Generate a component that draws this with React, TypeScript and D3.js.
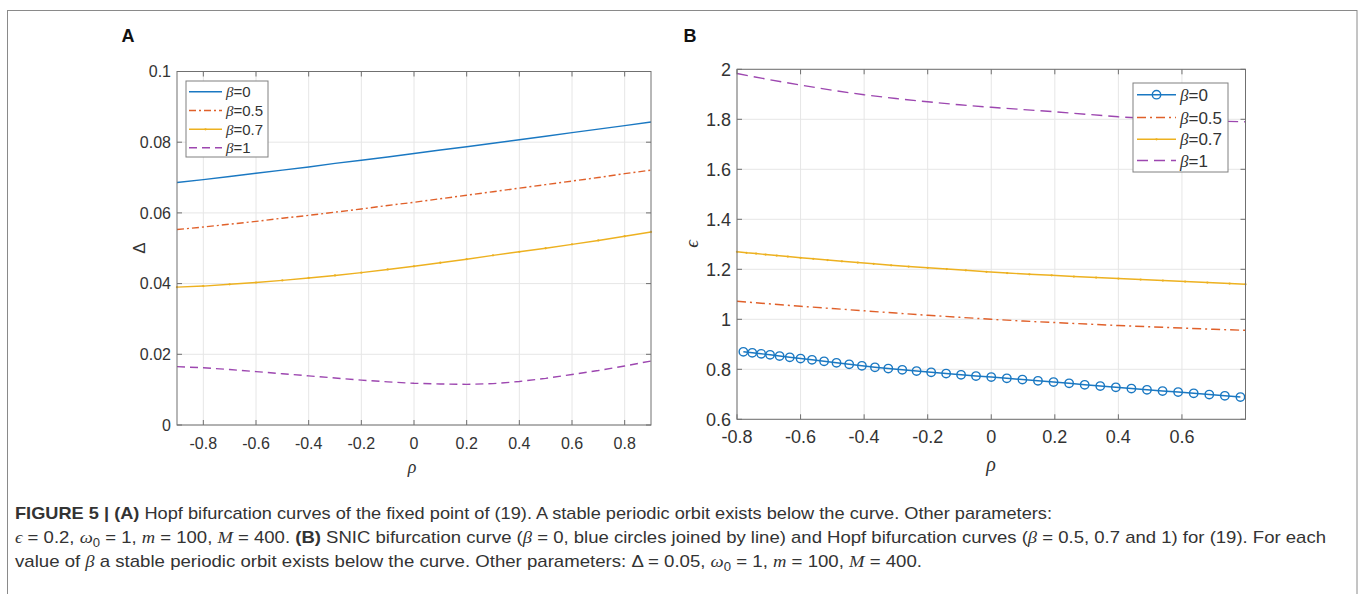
import React from 'react';
import * as d3 from 'd3';

// ---------- Panel A data (Hopf curves, Delta vs rho) ----------
const rhoA = [-0.9, -0.8, -0.7, -0.6, -0.5, -0.4, -0.3, -0.2, -0.1, 0, 0.1, 0.2, 0.3, 0.4, 0.5, 0.6, 0.7, 0.8, 0.9];
const deltaBeta0 = [0.0686, 0.0694, 0.0703, 0.0712, 0.0721, 0.0730, 0.0740, 0.0749, 0.0758, 0.0768, 0.0778, 0.0787, 0.0797, 0.0807, 0.0817, 0.0827, 0.0837, 0.0847, 0.0857];
const deltaBeta05 = [0.0553, 0.0560, 0.0568, 0.0576, 0.0585, 0.0593, 0.0602, 0.0611, 0.0621, 0.0630, 0.0640, 0.0650, 0.0660, 0.0670, 0.0680, 0.0690, 0.0700, 0.0711, 0.0721];
const deltaBeta07 = [0.0390, 0.0393, 0.0398, 0.0403, 0.0409, 0.0416, 0.0423, 0.0431, 0.0440, 0.0449, 0.0459, 0.0469, 0.0480, 0.0490, 0.0500, 0.0511, 0.0522, 0.0534, 0.0546];
const deltaBeta1 = [0.0165, 0.0162, 0.0157, 0.0151, 0.0145, 0.0139, 0.0133, 0.0127, 0.0122, 0.0118, 0.0116, 0.0115, 0.0117, 0.0123, 0.0132, 0.0143, 0.0154, 0.0167, 0.0181];
const xTicksA = [-0.8, -0.6, -0.4, -0.2, 0, 0.2, 0.4, 0.6, 0.8];
const yTicksA = [0, 0.02, 0.04, 0.06, 0.08, 0.1];

// ---------- Panel B data (SNIC + Hopf curves, epsilon vs rho) ----------
const rhoSnic = [-0.78, -0.752, -0.724, -0.696, -0.666, -0.634, -0.6, -0.564, -0.526, -0.487, -0.447, -0.407, -0.366, -0.324, -0.28, -0.235, -0.189, -0.142, -0.095, -0.048, 0, 0.049, 0.098, 0.147, 0.196, 0.245, 0.294, 0.343, 0.392, 0.441, 0.49, 0.539, 0.588, 0.637, 0.686, 0.735, 0.784];
const epsBeta0 = [0.870, 0.866, 0.862, 0.858, 0.853, 0.848, 0.843, 0.838, 0.832, 0.826, 0.820, 0.814, 0.808, 0.803, 0.798, 0.793, 0.788, 0.783, 0.778, 0.773, 0.769, 0.764, 0.759, 0.754, 0.749, 0.744, 0.738, 0.733, 0.728, 0.723, 0.718, 0.713, 0.709, 0.704, 0.699, 0.694, 0.689];
const rhoB = [-0.8, -0.7, -0.6, -0.5, -0.4, -0.3, -0.2, -0.1, 0, 0.1, 0.2, 0.3, 0.4, 0.5, 0.6, 0.7, 0.8];
const epsBeta05 = [1.072, 1.062, 1.052, 1.043, 1.034, 1.025, 1.016, 1.008, 1.000, 0.993, 0.987, 0.981, 0.975, 0.970, 0.965, 0.960, 0.956];
const epsBeta1 = [1.983, 1.959, 1.937, 1.916, 1.898, 1.883, 1.870, 1.858, 1.848, 1.839, 1.830, 1.820, 1.810, 1.803, 1.797, 1.793, 1.790];
const rhoB07 = [-0.8, -0.77, -0.74, -0.71, -0.675, -0.64, -0.6, -0.56, -0.515, -0.47, -0.42, -0.37, -0.315, -0.26, -0.2, -0.14, -0.08, -0.015, 0.05, 0.12, 0.19, 0.26, 0.33, 0.4, 0.47, 0.54, 0.61, 0.68, 0.75, 0.8];
const epsBeta07 = [1.270, 1.266, 1.263, 1.259, 1.255, 1.251, 1.246, 1.242, 1.237, 1.232, 1.227, 1.222, 1.216, 1.211, 1.206, 1.201, 1.196, 1.190, 1.185, 1.180, 1.176, 1.171, 1.167, 1.163, 1.159, 1.155, 1.151, 1.147, 1.143, 1.140];
const xTicksB = [-0.8, -0.6, -0.4, -0.2, 0, 0.2, 0.4, 0.6];
const yTicksB = [0.6, 0.8, 1, 1.2, 1.4, 1.6, 1.8, 2];

const betaLabels = ['0', '0.5', '0.7', '1'];
const colors = ['#1a78c2', '#e0602a', '#edb120', '#9d47b0'];

type Series = { xs: number[]; ys: number[]; color: string; dash?: string; marker?: 'circle' | 'dot' };

const SANS = "'Liberation Sans', Arial, Helvetica, sans-serif";
const SERIF = "'Liberation Serif', 'DejaVu Serif', serif";

function Panel(props: {
  box: { l: number; r: number; t: number; b: number };
  xDomain: [number, number];
  yDomain: [number, number];
  xTicks: number[];
  yTicks: number[];
  font: number;
  series: Series[];
  legend: { x: number; y: number; w: number; h: number; rows: number[]; lx0: number; lx1: number; tx: number; font: number; markers: (string | undefined)[]; dashes: (string | undefined)[] };
  yLabel: string;
  yLabelPos: [number, number];
  xLabelPos: [number, number];
  yLabelSerif: boolean;
}) {
  const { box, font } = props;
  const x = d3.scaleLinear().domain(props.xDomain).range([box.l, box.r]);
  const y = d3.scaleLinear().domain(props.yDomain).range([box.b, box.t]);
  const line = d3.line<[number, number]>().x((d) => x(d[0])).y((d) => y(d[1]));
  const tickLen = 5;
  const cap = font * 0.716;
  const axisColor = '#707070';
  const labelColor = '#333333';
  const lg = props.legend;
  return (
    <g>
      {props.xTicks.map((t) => (
        <line key={'gx' + t} x1={x(t)} x2={x(t)} y1={box.t} y2={box.b} stroke="#e6e6e6" strokeWidth={1} />
      ))}
      {props.yTicks.map((t) => (
        <line key={'gy' + t} x1={box.l} x2={box.r} y1={y(t)} y2={y(t)} stroke="#e6e6e6" strokeWidth={1} />
      ))}
      {props.series.map((s, i) => {
        const pts = d3.zip(s.xs, s.ys) as [number, number][];
        return (
          <g key={'s' + i}>
            <path d={line(pts) || ''} fill="none" stroke={s.color} strokeWidth={1.4} strokeDasharray={s.dash} />
            {s.marker === 'circle' &&
              pts.map((p, j) => (
                <circle key={j} cx={x(p[0])} cy={y(p[1])} r={4.2} fill="none" stroke={s.color} strokeWidth={1.4} />
              ))}
            {s.marker === 'dot' &&
              pts.map((p, j) => <circle key={j} cx={x(p[0])} cy={y(p[1])} r={1.15} fill={s.color} />)}
          </g>
        );
      })}
      <rect x={box.l} y={box.t} width={box.r - box.l} height={box.b - box.t} fill="none" stroke={axisColor} strokeWidth={1} />
      {props.xTicks.map((t) => (
        <g key={'tx' + t}>
          <line x1={x(t)} x2={x(t)} y1={box.b} y2={box.b - tickLen} stroke={axisColor} />
          <line x1={x(t)} x2={x(t)} y1={box.t} y2={box.t + tickLen} stroke={axisColor} />
          <text x={x(t)} y={box.b + 24} textAnchor="middle" fontSize={font} fill={labelColor} fontFamily={SANS}>
            {String(t)}
          </text>
        </g>
      ))}
      {props.yTicks.map((t) => (
        <g key={'ty' + t}>
          <line x1={box.l} x2={box.l + tickLen} y1={y(t)} y2={y(t)} stroke={axisColor} />
          <line x1={box.r} x2={box.r - tickLen} y1={y(t)} y2={y(t)} stroke={axisColor} />
          <text x={box.l - 6} y={y(t) + cap / 2} textAnchor="end" fontSize={font} fill={labelColor} fontFamily={SANS}>
            {String(t)}
          </text>
        </g>
      ))}
      <text x={props.xLabelPos[0]} y={props.xLabelPos[1] + 5} textAnchor="middle" fontSize={font + 2} fontStyle="italic" fontFamily={SERIF} fill={labelColor}>
        ρ
      </text>
      <text
        transform={`translate(${props.yLabelPos[0]},${props.yLabelPos[1]}) rotate(-90)`}
        textAnchor="middle"
        dy={5}
        fontSize={font + 1}
        fontStyle={props.yLabelSerif ? 'italic' : 'normal'}
        fontFamily={props.yLabelSerif ? SERIF : SANS}
        fill={labelColor}
      >
        {props.yLabel}
      </text>
      <rect x={lg.x} y={lg.y} width={lg.w} height={lg.h} fill="#fff" stroke="#808080" strokeWidth={1} />
      {betaLabels.map((b, i) => {
        const ry = lg.rows[i];
        const mx = (lg.lx0 + lg.lx1) / 2;
        return (
          <g key={'lg' + i}>
            <line x1={lg.lx0} x2={lg.lx1} y1={ry} y2={ry} stroke={colors[i]} strokeWidth={1.4} strokeDasharray={lg.dashes[i]} />
            {lg.markers[i] === 'circle' && <circle cx={mx} cy={ry} r={4.2} fill="none" stroke={colors[i]} strokeWidth={1.4} />}
            {lg.markers[i] === 'dot' && <circle cx={mx} cy={ry} r={1.15} fill={colors[i]} />}
            <text x={lg.tx} y={ry + lg.font * 0.36} fontSize={lg.font} fill={labelColor} fontFamily={SANS}>
              <tspan fontFamily={SERIF} fontStyle="italic">β</tspan>
              <tspan>={b}</tspan>
            </text>
          </g>
        );
      })}
    </g>
  );
}

type Seg = { t: string; b?: boolean; i?: boolean; sub?: boolean };
const captionLines: { segs: Seg[]; len: number; y: number }[] = [
  {
    y: 518.5,
    len: 1037,
    segs: [
      { t: 'FIGURE 5 | (A)', b: true },
      { t: ' Hopf bifurcation curves of the fixed point of (19). A stable periodic orbit exists below the curve. Other parameters:' },
    ],
  },
  {
    y: 542.5,
    len: 1311,
    segs: [
      { t: 'ϵ', i: true },
      { t: ' = 0.2, ' },
      { t: 'ω', i: true },
      { t: '0', sub: true },
      { t: ' = 1, ' },
      { t: 'm', i: true },
      { t: ' = 100, ' },
      { t: 'M', i: true },
      { t: ' = 400. ' },
      { t: '(B)', b: true },
      { t: ' SNIC bifurcation curve (' },
      { t: 'β', i: true },
      { t: ' = 0, blue circles joined by line) and Hopf bifurcation curves (' },
      { t: 'β', i: true },
      { t: ' = 0.5, 0.7 and 1) for (19). For each' },
    ],
  },
  {
    y: 566.5,
    len: 907,
    segs: [
      { t: 'value of ' },
      { t: 'β', i: true },
      { t: ' a stable periodic orbit exists below the curve. Other parameters: Δ = 0.05, ' },
      { t: 'ω', i: true },
      { t: '0', sub: true },
      { t: ' = 1, ' },
      { t: 'm', i: true },
      { t: ' = 100, ' },
      { t: 'M', i: true },
      { t: ' = 400.' },
    ],
  },
];

function Caption() {
  return (
    <g>
      {captionLines.map((ln, k) => {
        const out: React.ReactNode[] = [];
        let shifted = false;
        ln.segs.forEach((s, j) => {
          let dy: number | undefined = undefined;
          if (s.sub && !shifted) {
            dy = 4;
            shifted = true;
          } else if (!s.sub && shifted) {
            dy = -4;
            shifted = false;
          }
          out.push(
            <tspan
              key={j}
              dy={dy}
              fontWeight={s.b ? 'bold' : 'normal'}
              fontStyle={s.i ? 'italic' : 'normal'}
              fontFamily={s.i ? SERIF : SANS}
              fontSize={s.sub ? 12 : 17}
            >
              {s.t}
            </tspan>
          );
        });
        return (
          <text key={k} x={15} y={ln.y} fontSize={17} fill="#333" fontFamily={SANS} textLength={ln.len} lengthAdjust="spacingAndGlyphs">
            {out}
          </text>
        );
      })}
    </g>
  );
}

export default function App() {
  const seriesA: Series[] = [
    { xs: rhoA, ys: deltaBeta0, color: colors[0] },
    { xs: rhoA, ys: deltaBeta05, color: colors[1], dash: '7,3,2,3' },
    { xs: rhoA, ys: deltaBeta07, color: colors[2], marker: 'dot' },
    { xs: rhoA, ys: deltaBeta1, color: colors[3], dash: '8,5' },
  ];
  const seriesB: Series[] = [
    { xs: rhoSnic, ys: epsBeta0, color: colors[0], marker: 'circle' },
    { xs: rhoB, ys: epsBeta05, color: colors[1], dash: '9,4,2,4' },
    { xs: rhoB07, ys: epsBeta07, color: colors[2], marker: 'dot' },
    { xs: rhoB, ys: epsBeta1, color: colors[3], dash: '11,6' },
  ];
  return (
    <svg width={1360} height={594} style={{ position: 'absolute', left: 0, top: 0, background: '#fff' }}>
      <rect x={7.5} y={10.5} width={1349.5} height={700} fill="none" stroke="#8a8a8a" strokeWidth={1} />
      <text x={128} y={41.5} textAnchor="middle" fontSize={18} fontWeight="bold" fontFamily={SANS} fill="#111">
        A
      </text>
      <text x={690} y={41.5} textAnchor="middle" fontSize={18} fontWeight="bold" fontFamily={SANS} fill="#111">
        B
      </text>
      <Panel
        box={{ l: 177, r: 651, t: 71.5, b: 425 }}
        xDomain={[-0.9, 0.9]}
        yDomain={[0, 0.1]}
        xTicks={xTicksA}
        yTicks={yTicksA}
        font={16}
        series={seriesA}
        legend={{ x: 186, y: 81, w: 82, h: 76, rows: [91.7, 110.5, 129.3, 147.8], lx0: 189, lx1: 222, tx: 226, font: 15, markers: [undefined, undefined, 'dot', undefined], dashes: [undefined, '7,3,2,3', undefined, '8,5'] }}
        yLabel="Δ"
        yLabelPos={[140, 248]}
        xLabelPos={[412, 468]}
        yLabelSerif={false}
      />
      <Panel
        box={{ l: 737, r: 1245.5, t: 69.3, b: 419.3 }}
        xDomain={[-0.8, 0.8]}
        yDomain={[0.6, 2]}
        xTicks={xTicksB}
        yTicks={yTicksB}
        font={18}
        series={seriesB}
        legend={{ x: 1133, y: 83, w: 95, h: 89, rows: [94.7, 117.5, 139.3, 160.5], lx0: 1137, lx1: 1176, tx: 1180, font: 17, markers: ['circle', undefined, 'dot', undefined], dashes: [undefined, '9,4,2,4', undefined, '11,6'] }}
        yLabel="ϵ"
        yLabelPos={[693, 244]}
        xLabelPos={[991, 466]}
        yLabelSerif={true}
      />
      <Caption />
    </svg>
  );
}
